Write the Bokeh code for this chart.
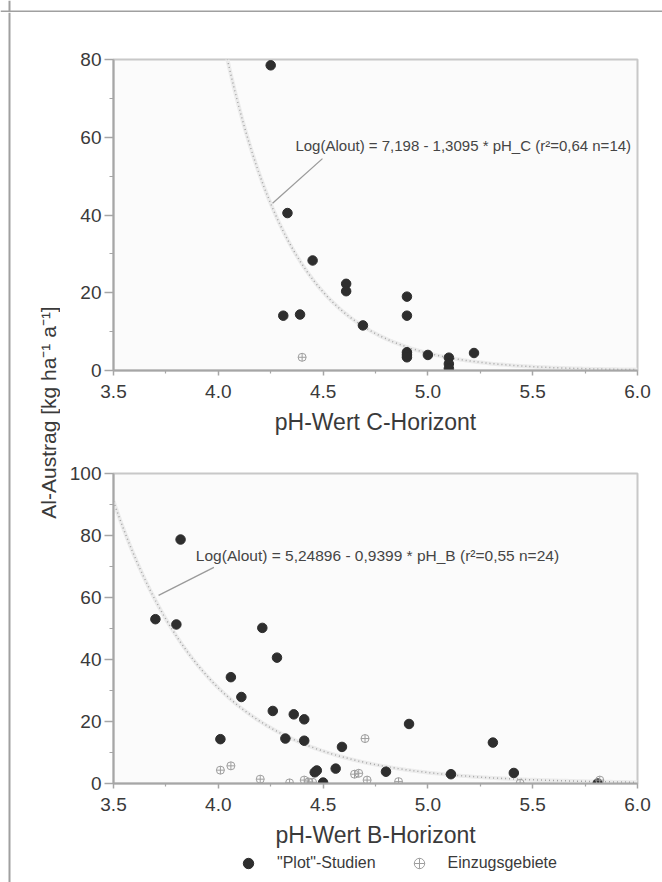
import numpy as np
from bokeh.plotting import figure
from bokeh.layouts import row, column
from bokeh.models import Range1d, FixedTicker, Label, Span, Legend, LegendItem
from bokeh.embed import file_html
from bokeh.resources import INLINE

FONT = "Liberation Sans"

# ---------------- data ----------------
x_ticks = [3.5, 4.0, 4.5, 5.0, 5.5, 6.0]
x_tick_labels = ["3.5", "4.0", "4.5", "5.0", "5.5", "6.0"]
y_ticks_c = [0, 20, 40, 60, 80]
y_ticks_b = [0, 20, 40, 60, 80, 100]

# C-Horizont, "Plot"-Studien
ph_c_plot = [4.25, 4.33, 4.45, 4.31, 4.39, 4.61, 4.61, 4.69, 4.90, 4.90, 4.90, 4.90, 4.90, 5.00, 5.10, 5.10, 5.10, 5.22]
al_c_plot = [78.5, 40.5, 28.3, 14.1, 14.4, 22.3, 20.4, 11.6, 19.0, 14.1, 4.7, 4.0, 3.4, 4.0, 3.3, 1.7, 0.5, 4.5]
# C-Horizont, Einzugsgebiete
ph_c_ezg = [4.40]
al_c_ezg = [3.4]

# B-Horizont, "Plot"-Studien
ph_b_plot = [3.82, 3.70, 3.80, 4.21, 4.28, 4.06, 4.11, 4.26, 4.36, 4.41, 4.01, 4.32, 4.41, 4.46,
             4.47, 4.50, 4.56, 4.59, 4.80, 4.91, 5.11, 5.31, 5.41, 5.81]
al_b_plot = [78.7, 53.0, 51.3, 50.2, 40.6, 34.3, 27.9, 23.4, 22.3, 20.7, 14.3, 14.5, 13.8, 3.6,
             4.2, 0.3, 4.8, 11.8, 3.8, 19.2, 3.0, 13.2, 3.4, 0.0]
# B-Horizont, Einzugsgebiete
ph_b_ezg = [4.01, 4.06, 4.20, 4.34, 4.41, 4.43, 4.45, 4.65, 4.67, 4.71, 4.70, 4.86, 5.44, 5.82]
al_b_ezg = [4.3, 5.7, 1.4, 0.2, 1.1, 0.5, 0.4, 3.0, 3.3, 1.1, 14.5, 0.6, 0.1, 1.1]

# regression equations printed in the chart: log10(Alout) = a + b * pH
reg_c = (7.198, -1.3095)
reg_b = (5.24896, -0.9399)
text_c = "Log(Alout) = 7,198 - 1,3095 * pH_C (r\u00b2=0,64 n=14)"
text_b = "Log(Alout) = 5,24896 - 0,9399 * pH_B (r\u00b2=0,55 n=24)"

x_title_c = "pH-Wert C-Horizont"
x_title_b = "pH-Wert B-Horizont"
y_title = "Al-Austrag [kg ha\u207b\u00b9 a\u207b\u00b9]"
legend_labels = ["\"Plot\"-Studien", "Einzugsgebiete"]

TXT = "#3a3a3a"
AX = "#a6a6a6"
PLOT_STYLE = dict(size=9.5, marker="circle", fill_color="#2e2e2e", line_color="#2e2e2e")
EZG_STYLE = dict(size=8, marker="circle_cross", fill_color=None, line_color="#9e9e9e", line_width=1)


def strip(w, h):
    s = figure(width=w, height=h, x_range=Range1d(0, w), y_range=Range1d(0, h),
               output_backend="svg", toolbar_location=None, min_border=0,
               x_axis_location=None, y_axis_location=None,
               background_fill_color="white", border_fill_color="white",
               outline_line_color=None)
    s.grid.visible = False
    return s


def make_plot(h, mtop, mbot, ymax, yticks, xtitle, reg, ann_text, ann_xy, ann_size, leader,
              ph_plot, al_plot, ph_ezg, al_ezg):
    xmin, xmax = x_ticks[0], x_ticks[-1]
    p = figure(width=602, height=h,
               x_range=Range1d(xmin, xmax), y_range=Range1d(0, ymax),
               output_backend="svg", toolbar_location=None,
               min_border_left=53, min_border_right=25, min_border_top=mtop, min_border_bottom=mbot,
               background_fill_color="#fbfbfb", border_fill_color="white",
               outline_line_color="#c8c8c8", outline_line_width=2)
    p.grid.visible = False

    xminor = [(a + b) / 2 for a, b in zip(x_ticks[:-1], x_ticks[1:])]
    yminor = [(a + b) / 2 for a, b in zip(yticks[:-1], yticks[1:])]
    p.xaxis.ticker = FixedTicker(ticks=x_ticks, minor_ticks=xminor)
    p.xaxis.major_label_overrides = {t: l for t, l in zip(x_ticks, x_tick_labels)}
    p.yaxis.ticker = FixedTicker(ticks=yticks, minor_ticks=yminor)

    for ax in (p.xaxis[0], p.yaxis[0]):
        ax.axis_line_color = AX
        ax.axis_line_width = 2
        ax.major_tick_line_color = AX
        ax.major_tick_line_width = 1.5
        ax.minor_tick_line_color = AX
        ax.minor_tick_line_width = 1.2
        ax.major_label_text_font = FONT
        ax.major_label_text_font_size = "19px"
        ax.major_label_text_color = TXT
        ax.axis_label_text_font = FONT
        ax.axis_label_text_font_style = "normal"
        ax.axis_label_text_font_size = "23px"
        ax.axis_label_text_color = TXT
    p.xaxis.major_tick_in = 0
    p.xaxis.major_tick_out = 5
    p.xaxis.minor_tick_in = 0
    p.xaxis.minor_tick_out = 3
    p.xaxis.major_label_standoff = 9
    p.xaxis.axis_label = xtitle
    p.xaxis.axis_label_standoff = 8
    p.yaxis.major_tick_in = 0
    p.yaxis.major_tick_out = 9
    p.yaxis.minor_tick_in = 0
    p.yaxis.minor_tick_out = 4
    p.yaxis.major_label_standoff = 3

    # regression curve
    xs = np.linspace(xmin, xmax, 200)
    ys = 10 ** (reg[0] + reg[1] * xs)
    p.line(xs, ys, line_color="#ececec", line_width=4)
    p.line(xs, ys, line_color="#a4a4a4", line_width=1.5, line_dash="1 3")

    # leader line + equation
    p.line(leader[0], leader[1], line_color="#9a9a9a", line_width=1.3)
    p.add_layout(Label(x=ann_xy[0], y=ann_xy[1], text=ann_text, text_font=FONT,
                       text_font_size=ann_size, text_color="#454545",
                       text_align="left", text_baseline="middle"))

    p.scatter(ph_plot, al_plot, **PLOT_STYLE)
    p.scatter(ph_ezg, al_ezg, **EZG_STYLE)
    return p


top = make_plot(433, 47, 75, 80, y_ticks_c, x_title_c, reg_c, text_c, (4.368, 57.9), "15px",
                ([4.259, 4.497], [43.0, 54.5]),
                ph_c_plot, al_c_plot, ph_c_ezg, al_c_ezg)
bottom = make_plot(405, 28, 67, 100, y_ticks_b, x_title_b, reg_b, text_b, (3.893, 73.6), "15.5px",
                   ([3.715, 3.979], [60.7, 69.7]),
                   ph_b_plot, al_b_plot, ph_b_ezg, al_b_ezg)

# legend strip below the lower chart (keys reuse the lower chart's series, hidden in the strip)
leg = strip(602, 32)
k1 = leg.scatter(ph_b_plot, al_b_plot, visible=False, **PLOT_STYLE)
k2 = leg.scatter(ph_b_ezg, al_b_ezg, visible=False, **EZG_STYLE)
legend = Legend(items=[LegendItem(label=legend_labels[0], renderers=[k1]),
                       LegendItem(label=legend_labels[1], renderers=[k2])],
                orientation="horizontal", location=(122, 6),
                glyph_width=26, glyph_height=26, label_standoff=16, spacing=30,
                padding=0, margin=0, border_line_color=None, background_fill_alpha=0,
                inactive_fill_alpha=0,
                label_text_font=FONT, label_text_font_size="16px", label_text_color=TXT)
leg.add_layout(legend)

header = strip(662, 12)
header.add_layout(Span(location=1, dimension="width", line_color="#a0a0a0", line_width=2))
header.add_layout(Span(location=9, dimension="height", line_color="#a0a0a0", line_width=2))
left = strip(60, 870)
left.add_layout(Span(location=9, dimension="height", line_color="#a0a0a0", line_width=2))
left.add_layout(Label(x=48, y=470, text=y_title, angle=np.pi / 2, text_font=FONT,
                      text_font_size="21px", text_color=TXT,
                      text_align="center", text_baseline="middle"))

layout = column(header, row(left, column(top, bottom, leg)))
open("out.html", "w").write(file_html(layout, INLINE))
